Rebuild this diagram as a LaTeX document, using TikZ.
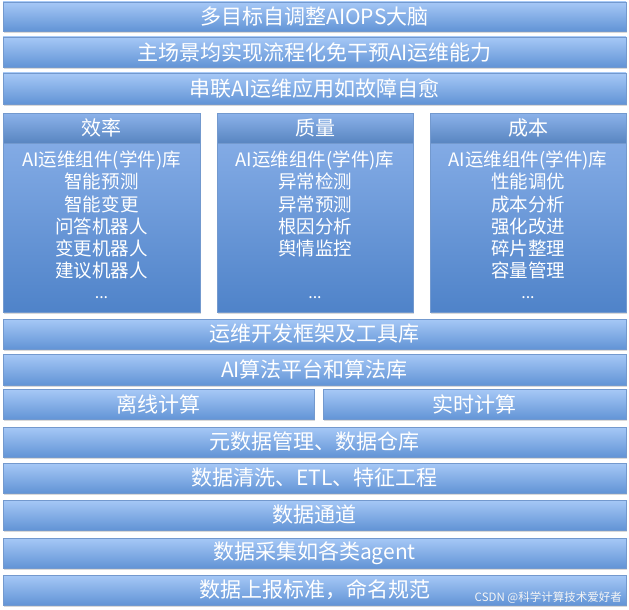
\documentclass[tikz,border=0pt]{standalone}
\usepackage{fontspec}
\setmainfont{Noto Sans CJK SC}
\usetikzlibrary{shadows}
\definecolor{bartop}{HTML}{A6C8F6}
\definecolor{barbot}{HTML}{6294D6}
\definecolor{coltop}{HTML}{8CB2EA}
\definecolor{colbot}{HTML}{4F83C9}
\definecolor{edge}{HTML}{7399CE}
\tikzset{
  bar/.style={draw=edge, line width=0.6pt, top color=bartop, bottom color=barbot,
    text=white, font=\fontsize{21}{24}\selectfont, inner sep=0pt,
    drop shadow={shadow xshift=0.6pt, shadow yshift=-1.6pt, opacity=0.25, fill=black!60}},
  colhead/.style={draw=edge, line width=0.6pt, top color=coltop, bottom color=barbot!90!black,
    text=white, font=\fontsize{20}{24}\selectfont, inner sep=0pt},
  colbody/.style={draw=edge, line width=0.6pt, top color=coltop, bottom color=colbot,
    inner sep=0pt,
    drop shadow={shadow xshift=0.6pt, shadow yshift=-1.6pt, opacity=0.25, fill=black!60}},
  listtext/.style={text=white, font=\fontsize{18.5}{22.3}\selectfont, align=center, inner sep=0pt, anchor=north},
  dots/.style={text=white, font=\fontsize{16}{18}\selectfont, inner sep=0pt},
  wmark/.style={text=white!92!gray, font=\fontsize{11.5}{13}\selectfont, inner sep=0pt, anchor=east}
}
\begin{document}
\begin{tikzpicture}[x=1pt,y=-1pt]
\useasboundingbox (0,0) rectangle (629,610);
% top rows
\node[bar, minimum width=623pt, minimum height=29pt] (r1) at (314.5,16.5) {多目标自调整AIOPS大脑};
\node[bar, minimum width=623pt, minimum height=30pt] (r2) at (314.5,52) {主场景均实现流程化免干预AI运维能力};
\node[bar, minimum width=623pt, minimum height=31pt] (r3) at (314.5,88.5) {串联AI运维应用如故障自愈};
% columns
\node[colbody, minimum width=197pt, minimum height=199pt] (b1) at (101.5,212.5) {};
\node[colbody, minimum width=196pt, minimum height=199pt] (b2) at (315,212.5) {};
\node[colbody, minimum width=196pt, minimum height=199pt] (b3) at (528,212.5) {};
\node[colhead, minimum width=197pt, minimum height=30pt] (h1) at (101.5,128) {效率};
\node[colhead, minimum width=196pt, minimum height=30pt] (h2) at (315,128) {质量};
\node[colhead, minimum width=196pt, minimum height=30pt] (h3) at (528,128) {成本};
\node[listtext] (l1) at (101.5,150.5) {AI运维组件(学件)库\\智能预测\\智能变更\\问答机器人\\变更机器人\\建议机器人};
\node[listtext] (l2) at (315,150.5) {AI运维组件(学件)库\\异常检测\\异常预测\\根因分析\\舆情监控};
\node[listtext] (l3) at (528,150.5) {AI运维组件(学件)库\\性能调优\\成本分析\\强化改进\\碎片整理\\容量管理};
\node[dots] (d1) at (101.5,298) {...};
\node[dots] (d2) at (315,298) {...};
\node[dots] (d3) at (528,298) {...};
% lower rows
\node[bar, minimum width=623pt, minimum height=30pt] (r4) at (314.5,334) {运维开发框架及工具库};
\node[bar, minimum width=623pt, minimum height=31pt] (r5) at (314.5,369.5) {AI算法平台和算法库};
\node[bar, minimum width=311pt, minimum height=30pt] (r6a) at (158.5,404.5) {离线计算};
\node[bar, minimum width=303pt, minimum height=30pt] (r6b) at (474.5,404.5) {实时计算};
\node[bar, minimum width=623pt, minimum height=30pt] (r7) at (314.5,442) {元数据管理、数据仓库};
\node[bar, minimum width=623pt, minimum height=30pt] (r8) at (314.5,478) {数据清洗、ETL、特征工程};
\node[bar, minimum width=623pt, minimum height=30pt] (r9) at (314.5,515) {数据通道};
\node[bar, minimum width=623pt, minimum height=30pt] (r10) at (314.5,553) {数据采集如各类agent};
\node[bar, minimum width=623pt, minimum height=30pt] (r11) at (314.5,590) {数据上报标准，命名规范};
\node[wmark] (wm) at (622,598) {CSDN @科学计算技术爱好者};
\end{tikzpicture}
\end{document}
